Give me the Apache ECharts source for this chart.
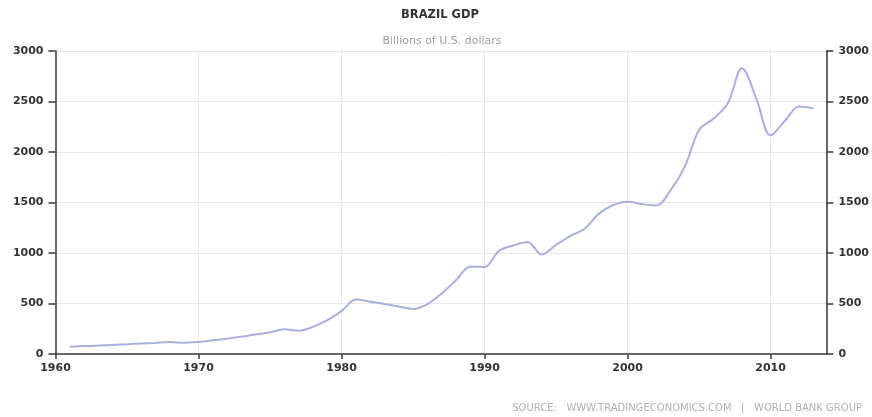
<!DOCTYPE html>
<html>
<head>
<meta charset="utf-8">
<script src="https://cdn.jsdelivr.net/npm/echarts@6/dist/echarts.min.js"></script>
<style>
  html, body { margin: 0; padding: 0; background: #fff; }
  #chart { width: 872px; height: 417px; }
</style>
</head>
<body>
<div id="chart"></div>
<script>
// Brazil GDP, billions of U.S. dollars, 1961-2013
const years = [
  1961, 1962, 1963, 1964, 1965, 1966, 1967, 1968, 1969, 1970,
  1971, 1972, 1973, 1974, 1975, 1976, 1977, 1978, 1979, 1980,
  1981, 1982, 1983, 1984, 1985, 1986, 1987, 1988, 1989, 1990,
  1991, 1992, 1993, 1994, 1995, 1996, 1997, 1998, 1999, 2000,
  2001, 2002, 2003, 2004, 2005, 2006, 2007, 2008, 2009, 2010,
  2011, 2012, 2013
];
const gdp = [
  72, 78, 83, 90, 97, 104, 110, 118, 112, 120,
  135, 152, 172, 192, 215, 245, 230, 268, 335, 425,
  540, 518, 495, 470, 446, 495, 600, 730, 865, 862,
  1020, 1075, 1110, 985, 1080, 1170, 1240, 1390, 1475, 1508,
  1485, 1470, 1620, 1855, 2218, 2330, 2480, 2828, 2530, 2165,
  2310, 2450, 2432
];
const yTicks = [0, 500, 1000, 1500, 2000, 2500, 3000];

const axisColor = '#3a3a3a';
const gridColor = '#e8e8e8';
const labelStyle = {
  color: '#333',
  fontFamily: 'DejaVu Sans',
  fontWeight: 'bold',
  fontSize: 11
};

const chart = echarts.init(document.getElementById('chart'), null, { renderer: 'canvas' });

function yAxisDef(position, showSplit) {
  return {
    type: 'value',
    position: position,
    min: yTicks[0],
    max: yTicks[yTicks.length - 1],
    interval: yTicks[1] - yTicks[0],
    axisLine: { show: true, lineStyle: { color: axisColor, width: 1.5 } },
    axisTick: { show: true, length: 7, lineStyle: { color: axisColor, width: 1.5 } },
    axisLabel: Object.assign({ margin: 12, formatter: v => String(v) }, labelStyle),
    splitLine: { show: showSplit, lineStyle: { color: gridColor, width: 1 } }
  };
}

chart.setOption({
  animation: false,
  backgroundColor: '#fff',
  graphic: [{
    type: 'text',
    x: 440,
    y: 15,
    style: {
      text: 'BRAZIL GDP',
      fill: '#333',
      font: 'bold 11.5px "DejaVu Sans"',
      align: 'center',
      verticalAlign: 'middle'
    }
  }, {
    type: 'text',
    x: 442,
    y: 41,
    style: {
      text: 'Billions of U.S. dollars',
      fill: '#a0a0a0',
      font: '11px "DejaVu Sans"',
      align: 'center',
      verticalAlign: 'middle'
    }
  }, {
    type: 'text',
    x: 862,
    y: 408,
    style: {
      text: 'SOURCE:   WWW.TRADINGECONOMICS.COM   |   WORLD BANK GROUP',
      fill: '#b0b0b0',
      font: '10px "DejaVu Sans"',
      align: 'right',
      verticalAlign: 'middle'
    }
  }],
  grid: { left: 55.5, right: 44.3, top: 51, bottom: 63, containLabel: false },
  xAxis: {
    type: 'value',
    min: 1960,
    max: 2013.9,
    interval: 10,
    axisLine: { show: true, onZero: false, lineStyle: { color: axisColor, width: 1.5 } },
    axisTick: { show: true, length: 5, lineStyle: { color: axisColor, width: 1.5 } },
    axisLabel: Object.assign({
      margin: 9,
      showMaxLabel: false,
      formatter: v => (v % 10 === 0 ? String(v) : '')
    }, labelStyle),
    splitLine: { show: true, lineStyle: { color: gridColor, width: 1 } }
  },
  yAxis: [yAxisDef('left', true), yAxisDef('right', false)],
  series: [{
    type: 'line',
    data: years.map((y, i) => [y, gdp[i]]),
    smooth: 0.35,
    showSymbol: false,
    lineStyle: { color: '#aab0dc', width: 2 },
    z: 3
  }]
});
</script>
</body>
</html>
